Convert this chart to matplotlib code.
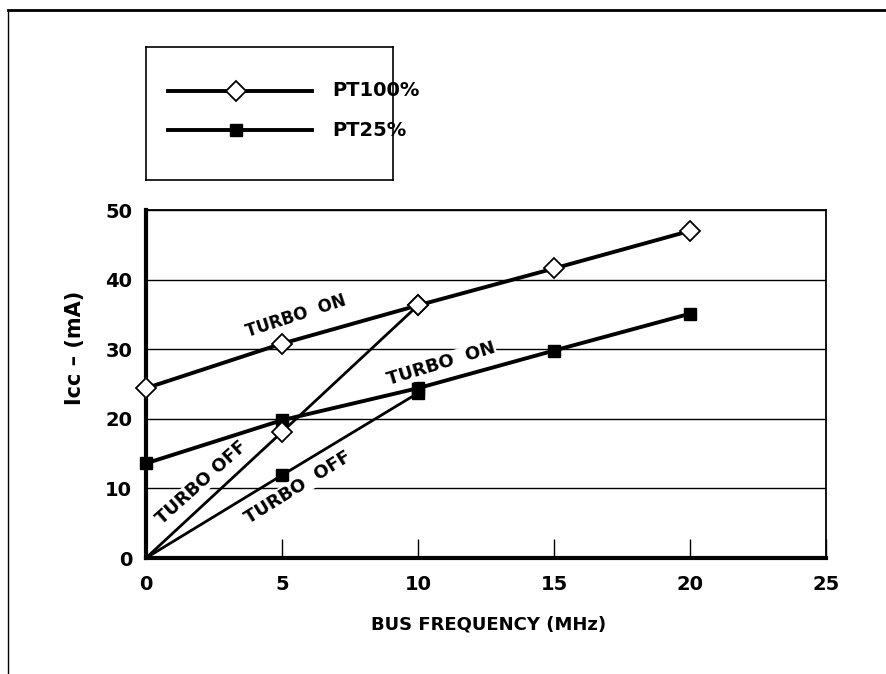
import matplotlib.pyplot as plt
from matplotlib.lines import Line2D

plt.rcParams['font.family'] = ['DejaVu Sans']
plt.rcParams['font.weight'] = 'bold'

# datos
freq = [0, 5, 10, 15, 20]
pt100_on = [24.4, 30.8, 36.3, 41.6, 47.0]
pt25_on = [13.6, 19.8, 24.4, 29.8, 35.1]
freq_off = [0, 5, 10]
pt100_off = [0.0, 18.1, 36.3]
pt25_off = [0.0, 11.9, 23.7]

fig = plt.figure(figsize=(8.87, 6.74), dpi=100)
ax = fig.add_axes([146/887, 1 - 558/674, 680/887, 348/674])

# lineas turbo off (mas delgadas)
ax.plot(freq_off, pt100_off, color='black', lw=2.0, zorder=3)
ax.plot(freq_off, pt25_off, color='black', lw=2.0, zorder=3)
ax.plot(freq_off[1:], pt100_off[1:], 'D', color='black', mfc='white', mew=1.3, ms=10, zorder=5)
ax.plot(freq_off[1:], pt25_off[1:], 's', color='black', ms=9, zorder=5)

# lineas turbo on
ax.plot(freq, pt100_on, color='black', lw=2.8, marker='D', mfc='white', mew=1.3, ms=10,
        zorder=4, clip_on=False)
ax.plot(freq, pt25_on, color='black', lw=2.8, marker='s', ms=9, zorder=4, clip_on=False)

ax.set_xlim(0, 25)
ax.set_ylim(0, 50)
ax.set_xticks([0, 5, 10, 15, 20, 25])
ax.set_yticks([0, 10, 20, 30, 40, 50])
ax.tick_params(axis='x', direction='in', length=14, width=1, labelsize=14, pad=12)
ax.tick_params(axis='y', length=0, labelsize=14, pad=10)
for lab in ax.get_xticklabels() + ax.get_yticklabels():
    lab.set_fontweight('bold')
ax.yaxis.grid(True, color='black', lw=1)
ax.set_axisbelow(True)
ax.spines['left'].set_linewidth(3)
ax.spines['bottom'].set_linewidth(3)
ax.spines['top'].set_linewidth(1.3)
ax.spines['right'].set_linewidth(1.3)

ax.set_xlabel('BUS FREQUENCY (MHz)', fontsize=13, fontweight='bold')
ax.xaxis.set_label_coords((489 - 146) / 680, -(625 - 558) / 348)
ax.xaxis.label.set_va('center')
ax.set_ylabel('Icc \u2013 (mA)', fontsize=15, fontweight='bold')
ax.yaxis.set_label_coords((75 - 146) / 680, (558 - 348) / 348)
ax.yaxis.label.set_va('center')

txt = dict(fontweight='bold', ha='center', va='center', zorder=6,
           bbox=dict(facecolor='white', edgecolor='none', pad=0.5))
ax.text(5.5, 34.8, 'TURBO  ON', rotation=18, fontsize=12, **txt)
ax.text(10.85, 27.9, 'TURBO  ON', rotation=17, fontsize=13, **txt)
ax.text(2.05, 10.8, 'TURBO OFF', rotation=42, fontsize=13, **txt)
ax.text(5.6, 10.2, 'TURBO  OFF', rotation=32, fontsize=13, **txt)

# leyenda dibujada a mano
lax = fig.add_axes([146/887, 1 - 180/674, 247/887, 133/674])
lax.set_xlim(0, 247)
lax.set_ylim(133, 0)
lax.set_xticks([])
lax.set_yticks([])
for s in lax.spines.values():
    s.set_linewidth(1.2)
lax.plot([22, 166], [44, 44], color='black', lw=2.8)
lax.plot([90], [44], 'D', color='black', mfc='white', mew=1.3, ms=10)
lax.plot([22, 166], [83, 83], color='black', lw=2.8)
lax.plot([90], [83], 's', color='black', ms=9)
lax.text(186, 44, 'PT100%', fontsize=14, fontweight='bold', va='center')
lax.text(186, 83, 'PT25%', fontsize=14, fontweight='bold', va='center')

# marco exterior
fig.add_artist(Line2D([8/887, 1], [1 - 10/674, 1 - 10/674], color='black', lw=2))
fig.add_artist(Line2D([8/887, 8/887], [0, 1 - 10/674], color='black', lw=1))

fig.savefig('out.png', dpi=100)
